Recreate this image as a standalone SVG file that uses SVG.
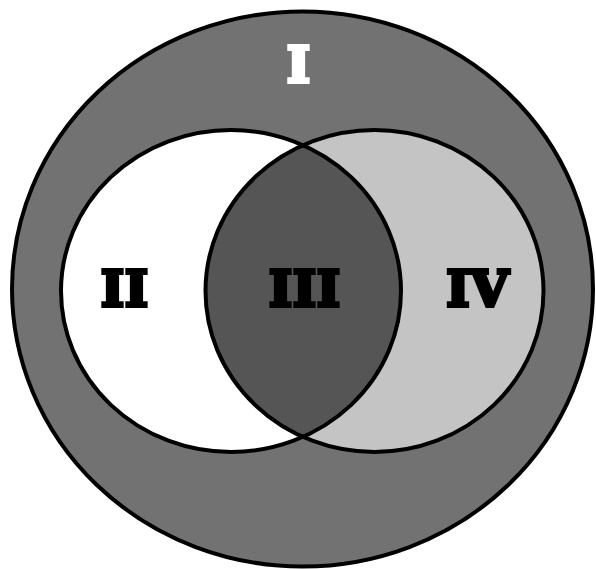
<svg xmlns="http://www.w3.org/2000/svg" width="596" height="569" viewBox="0 0 596 569">
<style>
.ln{stroke:#000;stroke-width:4;}
.lbl{font-family:"DejaVu Serif",serif;font-weight:bold;font-size:49px;text-anchor:middle;stroke-width:4;stroke-linejoin:miter;letter-spacing:1px;}
</style>
<defs>
<clipPath id="clipL"><ellipse cx="231" cy="291" rx="170" ry="161"/></clipPath>
</defs>
<rect width="596" height="569" fill="#fff"/>
<g id="region-I">
<ellipse cx="302.5" cy="289" rx="290.5" ry="277.5" fill="#727272" class="ln"/>
</g>
<g id="region-II">
<ellipse cx="231" cy="291" rx="170" ry="161" fill="#fff"/>
</g>
<g id="region-IV">
<ellipse cx="374.5" cy="291" rx="169" ry="161" fill="#c4c4c4"/>
</g>
<g id="region-III">
<ellipse cx="374.5" cy="291" rx="169" ry="161" fill="#555555" clip-path="url(#clipL)"/>
</g>
<g id="connectors" fill="none">
<ellipse cx="231" cy="291" rx="170" ry="161" class="ln"/>
<ellipse cx="374.5" cy="291" rx="169" ry="161" class="ln"/>
</g>
<g id="labels">
<text class="lbl" x="299" y="82" fill="#fff" stroke="#fff" font-size="54">I</text>
<text class="lbl" x="125" y="306" fill="#000" stroke="#000">II</text>
<text class="lbl" x="305" y="306" fill="#000" stroke="#000">III</text>
<text class="lbl" x="478" y="306" fill="#000" stroke="#000">IV</text>
</g>
</svg>
